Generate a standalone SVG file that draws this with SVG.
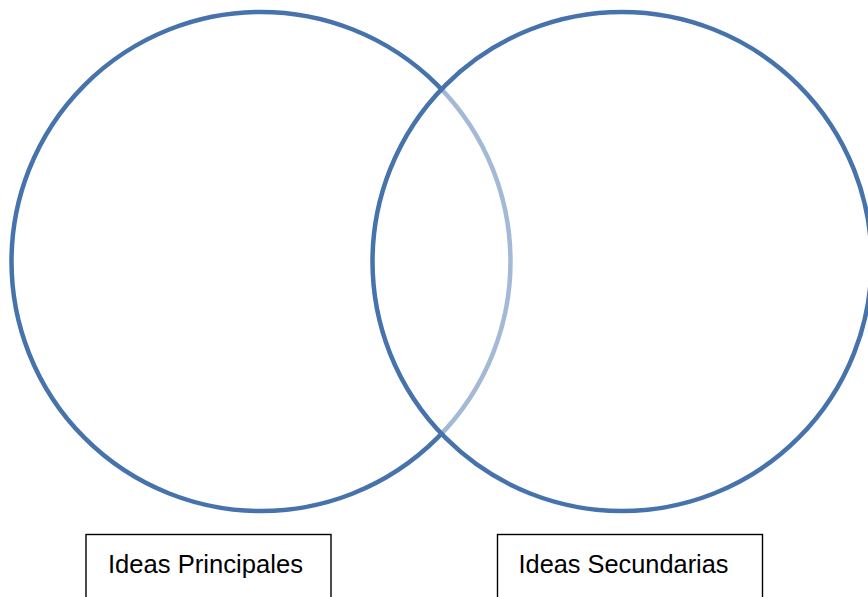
<svg xmlns="http://www.w3.org/2000/svg" width="868" height="597" viewBox="0 0 868 597">
<style>
.circle{stroke:#4673ac;stroke-width:4.5}
.box{fill:#fff;stroke:#000;stroke-width:1.4}
.label{font-family:"Liberation Sans",Arial,sans-serif;font-size:26px;fill:#000}
</style>
<rect width="868" height="597" fill="#fff"/>
<g id="circle-left"><circle class="circle" cx="261" cy="261.5" r="249.5" fill="none"/></g>
<g id="circle-right"><circle class="circle" cx="622" cy="261.5" r="249.5" fill="#fff" fill-opacity="0.5"/></g>
<g id="connectors"></g>
<g id="box-principales">
<rect class="box" x="86" y="534.5" width="245" height="70"/>
<text class="label" x="108" y="573" textLength="195" lengthAdjust="spacingAndGlyphs">Ideas Principales</text>
</g>
<g id="box-secundarias">
<rect class="box" x="497.5" y="534.5" width="265" height="70"/>
<text class="label" x="518.5" y="573" textLength="210" lengthAdjust="spacingAndGlyphs">Ideas Secundarias</text>
</g>
</svg>
